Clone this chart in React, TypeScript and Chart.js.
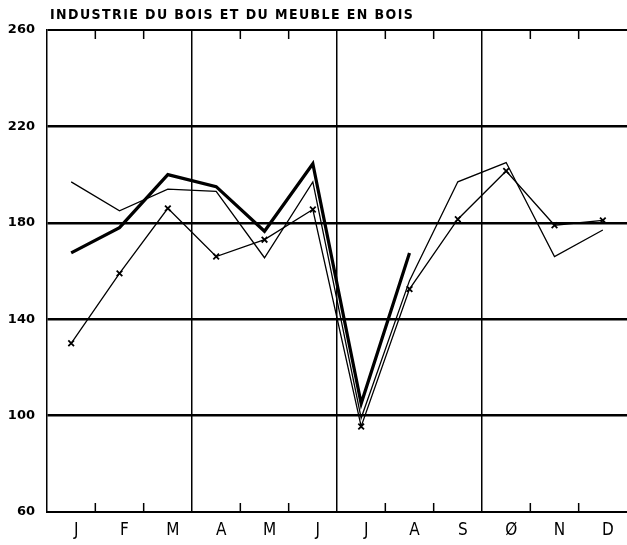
import React, { useEffect, useRef } from "react";
import { Chart, registerables } from "chart.js";

Chart.register(...registerables);

const title = "INDUSTRIE DU BOIS ET DU MEUBLE EN BOIS";
const months = ["J", "F", "M", "A", "M", "J", "J", "A", "S", "Ø", "N", "D"];
const yTicks = [60, 100, 140, 180, 220, 260];

// thin plain line
const seriesThin = [197, 185, 194, 193, 165.5, 197, 99, 156, 197, 205, 166, 177];
// thick line (data up to August)
const seriesThick = [167.5, 178, 200, 195, 176.5, 204.5, 105, 167.5, null, null, null, null];
// thin line with x markers
const seriesCross = [130, 159, 186, 166, 173, 185.5, 95.5, 152.5, 181.5, 201.5, 179, 181];

const decorPlugin = {
  id: "decor",
  afterDraw(chart: any) {
    const { ctx, chartArea, scales } = chart;
    const x = scales.x;
    const { top, bottom } = chartArea;
    ctx.save();
    ctx.strokeStyle = "#000";
    ctx.lineWidth = 1.5;
    for (let i = 1; i < months.length; i++) {
      if (i % 3 === 0) continue;
      const px = (x.getPixelForValue(i - 1) + x.getPixelForValue(i)) / 2;
      ctx.beginPath();
      ctx.moveTo(px, top);
      ctx.lineTo(px, top + 9);
      ctx.moveTo(px, bottom);
      ctx.lineTo(px, bottom - 9);
      ctx.stroke();
    }
    ctx.font = 'bold 14px "DejaVu Sans Condensed", "DejaVu Sans", sans-serif';
    ctx.fillStyle = "#000";
    ctx.textAlign = "left";
    ctx.textBaseline = "alphabetic";
    const w0 = ctx.measureText(title).width;
    const sp = Math.max(0, (363 - w0) / (title.length - 1));
    (ctx as any).letterSpacing = sp.toFixed(2) + "px";
    ctx.fillText(title, 50, 19);
    (ctx as any).letterSpacing = "0px";
    ctx.restore();
  },
};

export default function App() {
  const ref = useRef<HTMLCanvasElement | null>(null);

  useEffect(() => {
    if (!ref.current) return;
    const chart = new Chart(ref.current, {
      type: "line",
      data: {
        labels: months,
        datasets: [
          {
            data: seriesThin,
            borderColor: "#000",
            borderWidth: 1.3,
            pointRadius: 0,
            tension: 0,
          },
          {
            data: seriesThick,
            borderColor: "#000",
            borderWidth: 3.2,
            pointRadius: 0,
            tension: 0,
            spanGaps: false,
          },
          {
            data: seriesCross,
            borderColor: "#000",
            borderWidth: 1.3,
            pointStyle: "crossRot",
            pointRadius: 4,
            pointBorderWidth: 1.8,
            pointBorderColor: "#000",
            tension: 0,
          },
        ],
      },
      options: {
        responsive: false,
        animation: false,
        devicePixelRatio: 1,
        layout: { autoPadding: false, padding: { top: 30, left: 0, right: 0, bottom: 0 } },
        plugins: {
          legend: { display: false },
          tooltip: { enabled: false },
          title: { display: false },
        },
        scales: {
          x: {
            type: "category",
            offset: true,
            border: { display: true, color: "#000", width: 2 },
            grid: {
              drawTicks: false,
              offset: true,
              color: (c: any) => ([3, 6, 9].includes(c.index) ? "#000" : "rgba(0,0,0,0)"),
              lineWidth: 1.5,
            },
            ticks: {
              color: "#000",
              padding: 8,
              labelOffset: 5,
              maxRotation: 0,
              autoSkip: false,
              font: { family: '"DejaVu Sans Condensed", "DejaVu Sans", sans-serif', size: 17 },
            },
            afterFit: (s: any) => {
              s.height = 33;
              s.paddingLeft = 0;
              s.paddingRight = 0;
            },
          },
          y: {
            min: 60,
            max: 260,
            border: { display: true, color: "#000", width: 1.5 },
            grid: {
              drawTicks: false,
              color: "#000",
              lineWidth: (c: any) =>
                c.tick && c.tick.value === 60 ? 0 : c.tick && c.tick.value === 260 ? 2 : 2.5,
            },
            afterBuildTicks: (s: any) => {
              s.ticks = yTicks.map((v) => ({ value: v }));
            },
            ticks: {
              color: "#000",
              padding: 12,
              font: { family: '"DejaVu Sans", sans-serif', size: 13, weight: "bold" },
            },
            afterFit: (s: any) => {
              s.width = 47;
            },
          },
        },
      },
      plugins: [decorPlugin],
    });
    return () => chart.destroy();
  }, []);

  return (
    <div style={{ position: "absolute", left: 0, top: 0, width: 627, height: 545, background: "#fff" }}>
      <canvas ref={ref} width={627} height={545} />
    </div>
  );
}
